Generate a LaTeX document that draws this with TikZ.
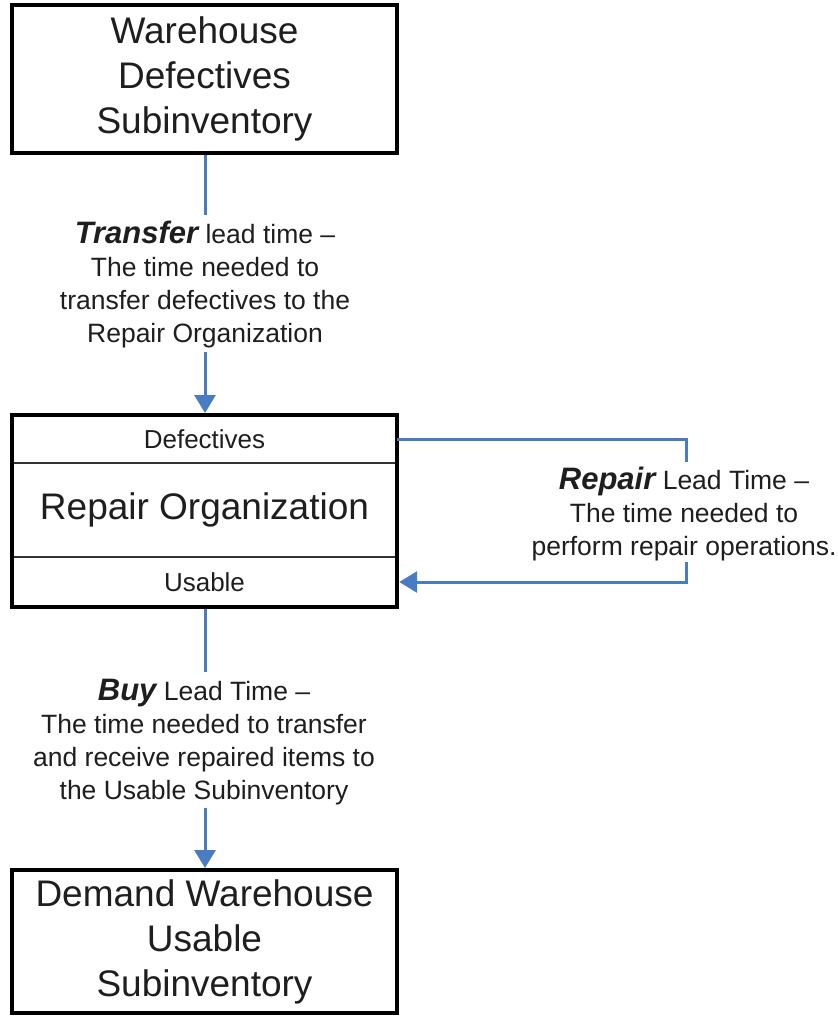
\documentclass[tikz,border=0pt]{standalone}
\usepackage{fontspec}
\setmainfont{Liberation Sans}
\usetikzlibrary{arrows.meta}
\definecolor{linkblue}{HTML}{4A7CC4}
\definecolor{inktext}{HTML}{1E1E1E}
\tikzset{
  bigbox/.style={draw=black, line width=4pt, minimum width=385pt, inner sep=0pt,
    align=center, text=inktext, font=\fontsize{37}{45}\selectfont},
  part/.style={minimum width=385pt, inner sep=0pt, align=center, text=inktext},
  lbl/.style={align=center, text=inktext, inner sep=0pt,
    font=\fontsize{26.5}{33}\selectfont},
  link/.style={draw=linkblue, line width=3pt},
  linkarrow/.style={link, -{Triangle[length=18pt,width=21pt]}}
}
\newcommand{\keyword}[1]{{\fontsize{31}{33}\selectfont\bfseries\itshape #1}}
\begin{document}
\begin{tikzpicture}[x=1pt,y=-1pt]
  \useasboundingbox (0,0) rectangle (837,1016);

  % source subinventory
  \node[bigbox, minimum height=148pt] (wdef) at (204.5,79)
    {Warehouse\\Defectives\\Subinventory};

  % repair organization with its two subinventories
  \node[part, minimum height=48pt, font=\fontsize{26}{30}\selectfont] (def) at (204.5,439) {Defectives};
  \node[part, minimum height=94pt, font=\fontsize{37}{45}\selectfont] (org) at (204.5,510) {Repair Organization};
  \node[part, minimum height=50pt, font=\fontsize{26}{30}\selectfont] (use) at (204.5,582) {Usable};
  \draw[draw=black!80, line width=2.5pt] (def.south west) -- (def.south east);
  \draw[draw=black!80, line width=2.5pt] (use.north west) -- (use.north east);
  \node[draw=black, line width=4pt, minimum width=385pt, minimum height=192pt, inner sep=0pt] (rep) at (204.5,511) {};

  % destination subinventory
  \node[bigbox, minimum height=143pt] (dem) at (204.5,941.5)
    {Demand Warehouse\\Usable\\Subinventory};

  % lead time labels
  \node[lbl] (trans) at (205,285)
    {\keyword{Transfer} lead time –\\
     The time needed to\\transfer defectives to the\\Repair Organization};
  \node[lbl] (replab) at (684,514)
    {\keyword{Repair} Lead Time –\\
     The time needed to\\perform repair operations.};
  \node[lbl] (buy) at (204,742)
    {\keyword{Buy} Lead Time –\\
     The time needed to transfer\\and receive repaired items to\\the Usable Subinventory};

  % gaps left in the connectors around the labels
  \coordinate (t1) at (205,215);
  \coordinate (t2) at (205,352);
  \coordinate (r1) at (686,462);
  \coordinate (r2) at (686,562);
  \coordinate (b1) at (205,672);
  \coordinate (b2) at (205,808);

  % connectors
  \draw[link] (wdef.south -| t1) -- (t1);
  \draw[linkarrow] (t2) -- (rep.north -| t2);
  \draw[link] (def.east) -| (r1);
  \draw[linkarrow] (r2) |- ([xshift=2pt]use.east);
  \draw[link] (rep.south -| b1) -- (b1);
  \draw[linkarrow] (b2) -- (dem.north -| b2);
\end{tikzpicture}
\end{document}
